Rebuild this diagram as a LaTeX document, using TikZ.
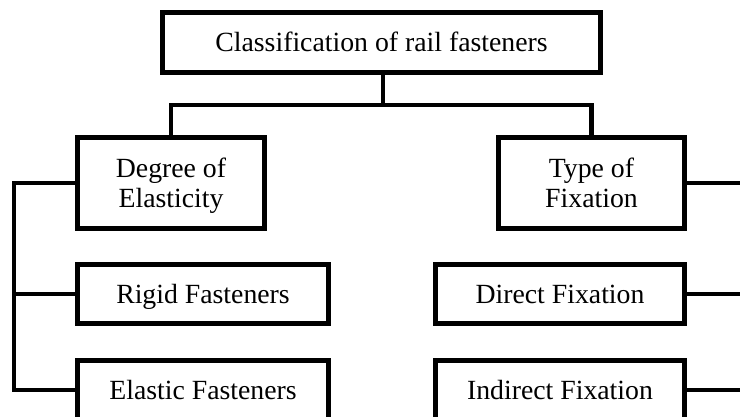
\documentclass[tikz,border=0pt]{standalone}
\usepackage{fontspec}
\setmainfont{Liberation Serif}
\usepackage{tikz}

\begin{document}
\begin{tikzpicture}[x=0.02cm, y=-0.02cm,
    box/.style={draw, line width=2.8pt, inner sep=0pt, align=center,
      text height=10.5pt, text depth=0pt,
      font=\fontsize{15.8}{17}\selectfont},
    twoline/.style={box, text height=27.5pt},
    link/.style={line width=2.8pt}]
    \useasboundingbox (0,0) rectangle (740,416);
    \clip (0,0) rectangle (740,416);
    % boxes
    \node[box, minimum width=8.76cm, minimum height=1.2cm] (top) at (381.5,42.5) {Classification of rail fasteners};
    \node[twoline, minimum width=3.74cm, minimum height=1.82cm] (deg) at (171,183) {Degree of\\Elasticity};
    \node[twoline, minimum width=3.72cm, minimum height=1.82cm] (type) at (591.5,183) {Type of\\Fixation};
    \node[box, minimum width=5.02cm, minimum height=1.18cm] (rigid) at (203,294) {Rigid Fasteners};
    \node[box, minimum width=5.02cm, minimum height=1.18cm] (elastic) at (203,390) {Elastic Fasteners};
    \node[box, minimum width=4.98cm, minimum height=1.18cm] (direct) at (560,294) {Direct Fixation};
    \node[box, minimum width=4.98cm, minimum height=1.18cm] (indirect) at (560,390) {Indirect Fixation};
    % connectors
    \coordinate (split) at (383,105);
    \coordinate (ltop) at (14,183); \coordinate (lbot) at (14,390);
    \coordinate (rtop) at (760,183);
    \draw[link] (top.south -| split) -- (split);
    \draw[link] (deg.north) |- (split) -| (type.north);
    \draw[link] (deg.west) -- (ltop) -- (lbot) -- (elastic.west);
    \draw[link] (rigid.west) -- (rigid.west -| ltop);
    \draw[link] (type.east) -- (rtop);
    \draw[link] (direct.east) -- (direct.east -| rtop);
    \draw[link] (indirect.east) -- (indirect.east -| rtop);
\end{tikzpicture}
\end{document}
